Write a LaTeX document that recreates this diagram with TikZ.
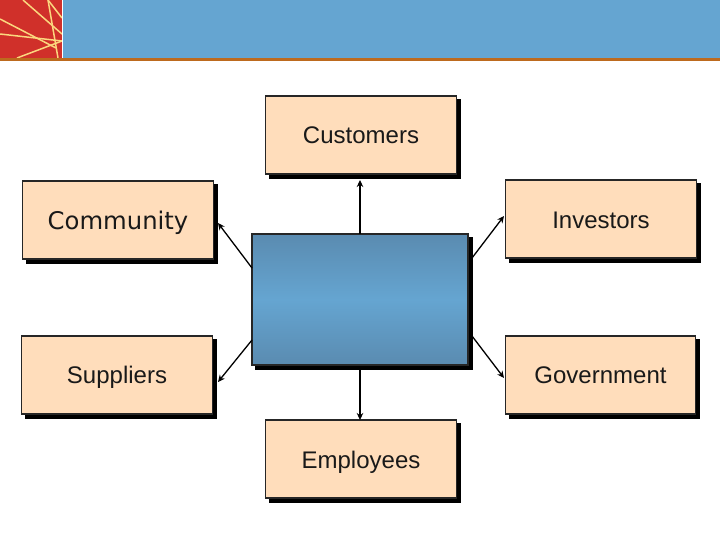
\documentclass[tikz,border=0pt]{standalone}
\usepackage{fontspec}
\setmainfont{Liberation Sans}
\newfontfamily\dejavu{DejaVu Sans}
\usetikzlibrary{shadows,arrows.meta}
\definecolor{peach}{HTML}{FFDDBB}
\definecolor{hdrblue}{HTML}{65A5D1}
\definecolor{hdrred}{HTML}{D0302A}
\definecolor{hdrline}{HTML}{BD6A1E}
\definecolor{ray}{HTML}{FBD77E}
\definecolor{edgeblue}{HTML}{5A8BB0}
\tikzset{
  x=1bp,y=-1bp,
  boxbase/.style={rectangle,inner sep=0pt,outer sep=0pt,line width=1.3bp,draw=black!85,
    copy shadow={shadow xshift=4bp,shadow yshift=-4bp,fill=black,draw=black}},
  actor/.style={boxbase,fill=peach,minimum width=190.5bp,minimum height=78bp,
    text height=17bp,text depth=1bp,
    font=\fontsize{24bp}{28bp}\selectfont,text=black!90},
  firm/.style={boxbase,minimum width=216bp,minimum height=131bp,top color=edgeblue,bottom color=edgeblue,middle color=hdrblue},
  link/.style={draw=black,line width=1.3bp,-{Stealth[length=7bp,width=6.5bp]}},
  rayline/.style={draw=ray,line width=1.5bp}
}
\begin{document}
\begin{tikzpicture}
\useasboundingbox (0,0) rectangle (720,540);
\fill[white] (0,0) rectangle (720,540);
\fill[hdrblue] (62,0) rectangle (720,58);
\fill[hdrred] (0,0) rectangle (62,58);
\begin{scope}
\clip (0,0) rectangle (62,58);
\draw[rayline] (23,0) -- (62,34);
\draw[rayline] (48,0) -- (62,18);
\draw[rayline] (48,0) -- (58,58);
\draw[rayline] (0,19) -- (56,48);
\draw[rayline] (0,34) -- (62,41);
\draw[rayline] (17,58) -- (62,41);
\end{scope}
\fill[white] (61.5,0) rectangle (63,58);
\fill[hdrline] (0,58.5) rectangle (720,61.5);

\node[firm] (firm) at (360,299.5) {};
\node[actor,text height=19bp] (customers) at (361,135) {Customers};
\node[actor,text height=21bp] (investors) at (601,219) {Investors};
\node[actor,font=\dejavu\fontsize{24.3bp}{28bp}\selectfont,text height=20bp] (community) at (118,220) {Community};
\node[actor] (suppliers) at (117,375) {Suppliers};
\node[actor] (government) at (600.5,375) {Government};
\node[actor,text height=19bp] (employees) at (361,459) {Employees};

\coordinate (fnw) at (252,268);
\coordinate (fne) at (472,258);
\coordinate (fsw) at (252,340);
\coordinate (fse) at (472,336);
\coordinate (cend) at (360,180);
\coordinate (eend) at (360,420);
\coordinate (fsouth) at (360,370);
\coordinate (coend) at (218,223);
\coordinate (iend) at (504,216);
\coordinate (send) at (218,382);
\coordinate (gend) at (504,378);
\draw[link] (firm.north) -- (cend);
\draw[link] (fsouth) -- (eend);
\draw[link] (fnw) -- (coend);
\draw[link] (fne) -- (iend);
\draw[link] (fsw) -- (send);
\draw[link] (fse) -- (gend);
\end{tikzpicture}
\end{document}
